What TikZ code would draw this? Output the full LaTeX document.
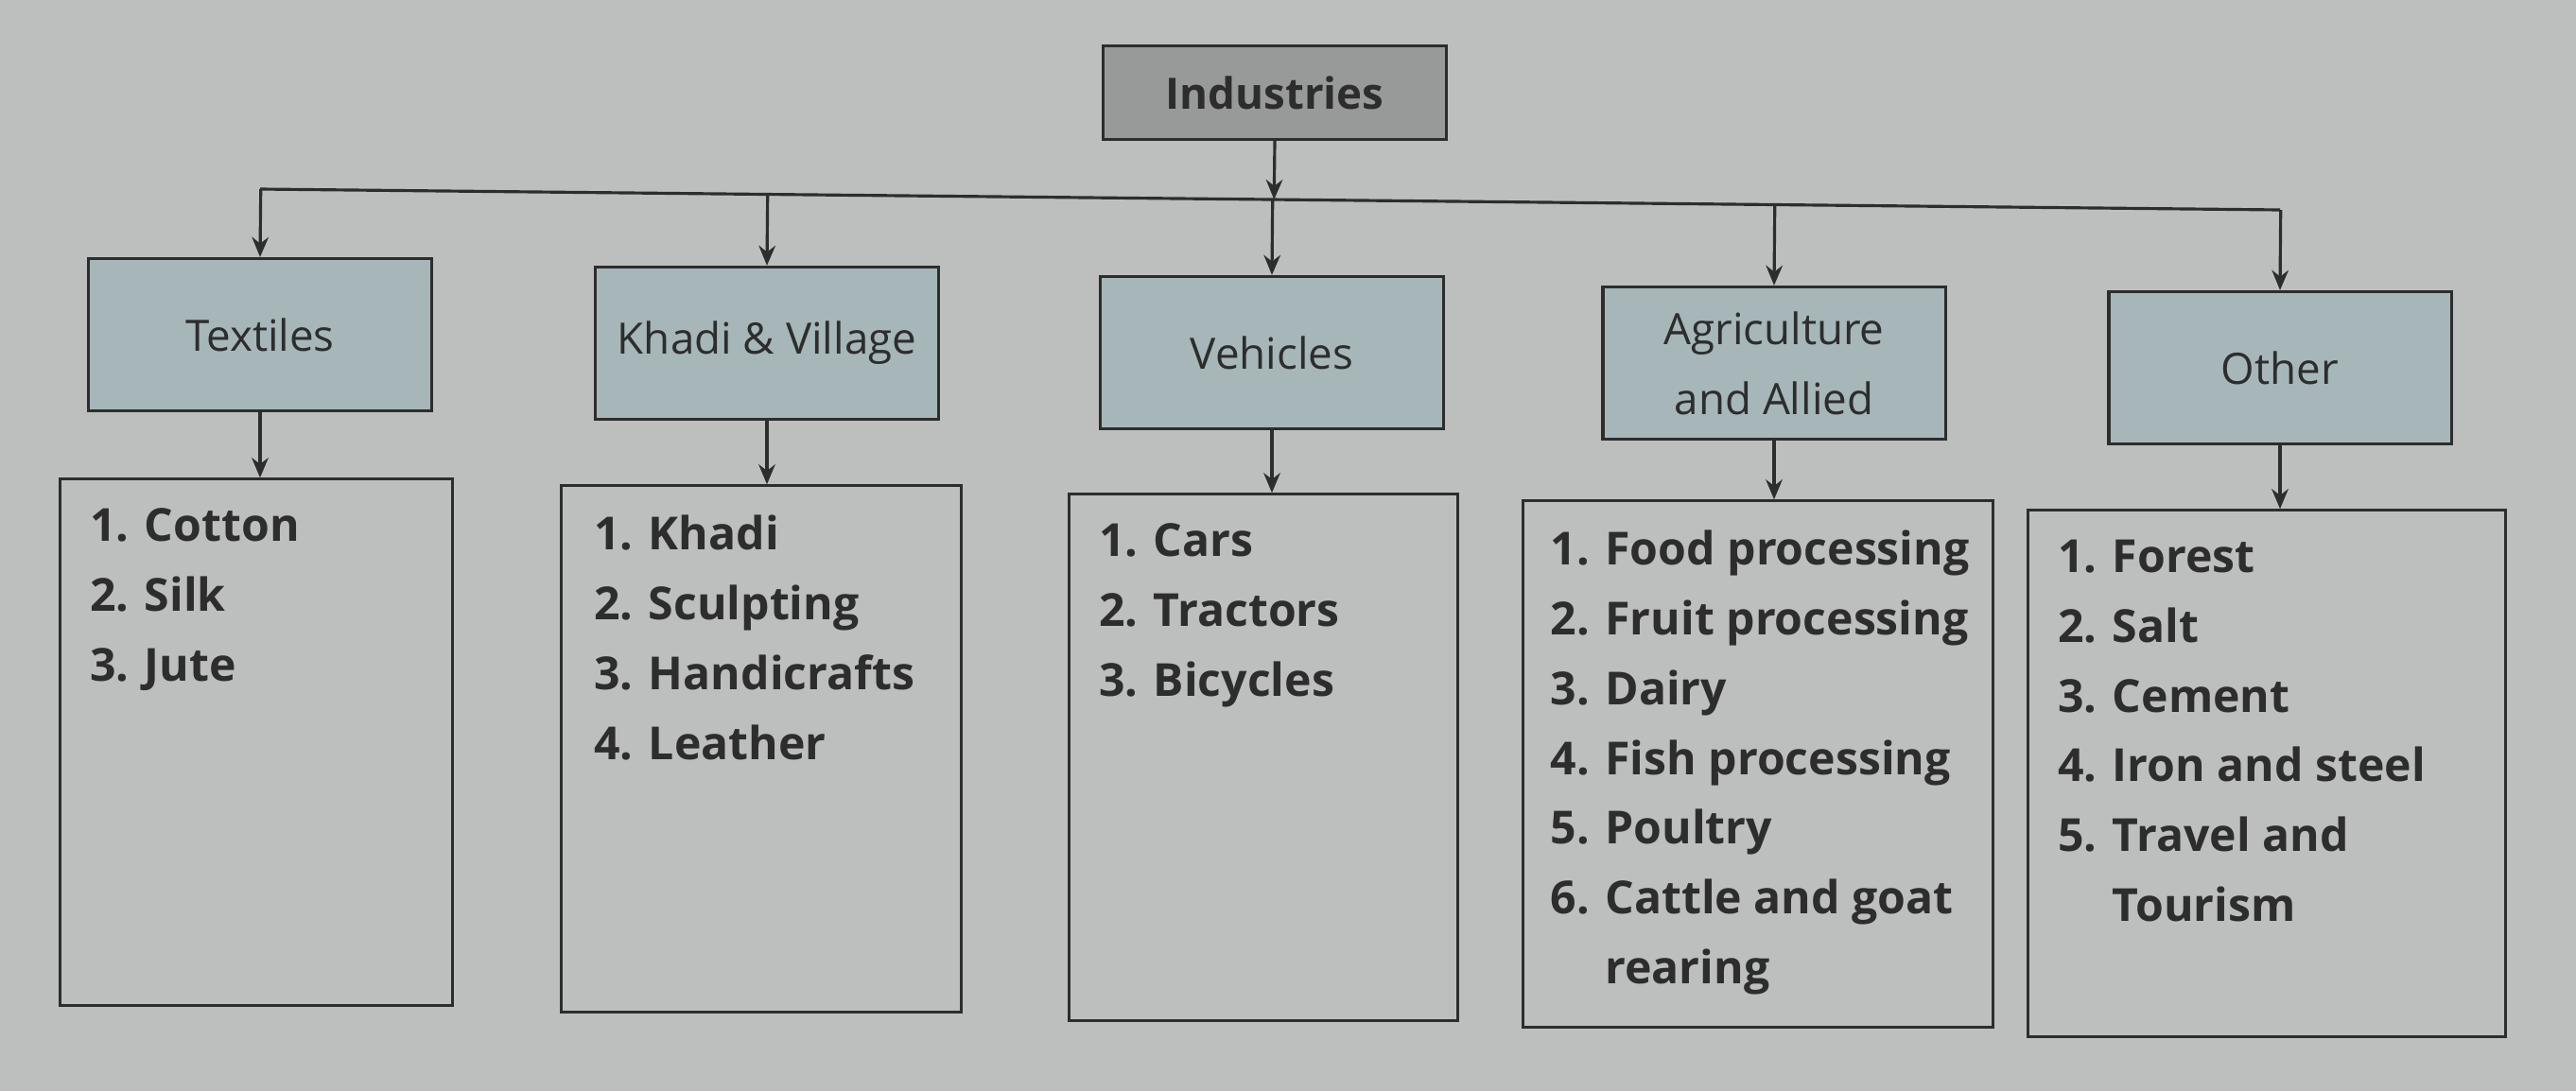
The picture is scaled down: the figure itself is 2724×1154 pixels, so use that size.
\documentclass[tikz,border=0pt]{standalone}
\usepackage{fontspec}
\setmainfont{Open Sans}
\usepackage{xcolor}
\usetikzlibrary{positioning, calc, arrows.meta}
\definecolor{pagegray}{RGB}{188,191,189}
\definecolor{headgray}{RGB}{152,154,153}
\definecolor{catblue}{RGB}{166,182,185}
\definecolor{inkgray}{RGB}{45,45,45}
\tikzset{
  head/.style={draw=inkgray, line width=0.9pt, fill=headgray, minimum width=3.62cm, minimum height=0.99cm, font=\fontsize{13}{15}\selectfont\bfseries, text=inkgray},
  catbox/.style={draw=inkgray, line width=0.9pt, fill=catblue, minimum width=3.62cm, minimum height=1.61cm, align=center, inner sep=1pt, font=\fontsize{13}{21}\selectfont, text=inkgray},
  listbox/.style={draw=inkgray, line width=0.9pt, minimum height=5.56cm},
  listtext/.style={anchor=north west, inner sep=0pt, align=left, font=\fontsize{13.7}{21}\selectfont\bfseries, text=inkgray},
  arr/.style={-{Stealth[length=6pt,width=5pt]}, draw=inkgray, line width=0.9pt}
}

\begin{document}
\begin{tikzpicture}[x=0.01cm, y=-0.01cm]
    % Page
    \fill[pagegray] (0,0) rectangle (2724,1154);
    \useasboundingbox (0,0) rectangle (2724,1154);

    % Top box
    \node[head] (ind) at (1348,98) {Industries};

    % Groups
    \node[catbox] (tex) at (275,354) {Textiles};
    \node[catbox] (kha) at (811,363) {Khadi \& Village};
    \node[catbox] (veh) at (1345,373) {Vehicles};
    \node[catbox] (agr) at (1876,384) {Agriculture\\and Allied};
    \node[catbox] (oth) at (2411,389) {Other};

    % Lists
    \node[listbox, minimum width=4.14cm] (tex-l) at (271,785) {};
    \node[listbox, minimum width=4.22cm] (kha-l) at (805,792) {};
    \node[listbox, minimum width=4.10cm] (veh-l) at (1336,801) {};
    \node[listbox, minimum width=4.97cm] (agr-l) at (1859,808) {};
    \node[listbox, minimum width=5.04cm] (oth-l) at (2397,818) {};

    \node[listtext] (tex-t) at ([shift={(32,32)}]tex-l.north west) {1. Cotton\\2. Silk\\3. Jute};
    \node[listtext] (kha-t) at ([shift={(35,32)}]kha-l.north west) {1. Khadi\\2. Sculpting\\3. Handicrafts\\4. Leather};
    \node[listtext] (veh-t) at ([shift={(32,32)}]veh-l.north west) {1. Cars\\2. Tractors\\3. Bicycles};
    \node[listtext] (agr-t) at ([shift={(30,32)}]agr-l.north west) {1. Food processing\\2. Fruit processing\\3. Dairy\\4. Fish processing\\5. Poultry\\6. Cattle and goat\\\hphantom{6. }rearing};
    \node[listtext] (oth-t) at ([shift={(32,32)}]oth-l.north west) {1. Forest\\2. Salt\\3. Cement\\4. Iron and steel\\5. Travel and\\\hphantom{5. }Tourism};

    % Bus line
    \coordinate (busl) at (tex.north |- 0,200);
    \coordinate (busr) at (oth.north |- 0,222);
    \draw[inkgray, line width=0.9pt] (busl) -- (busr);

    % Arrows
    \draw[arr] (ind.south) -- ($(busl)!(ind.south)!(busr)$);
    \foreach \n in {tex,kha,veh,agr,oth}
        \draw[arr] ($(busl)!(\n.north)!(busr)$) -- (\n.north);
    \foreach \n in {tex,kha,veh,agr,oth}
        \draw[arr] (\n.south) -- (\n.south |- \n-l.north);
\end{tikzpicture}
\end{document}
